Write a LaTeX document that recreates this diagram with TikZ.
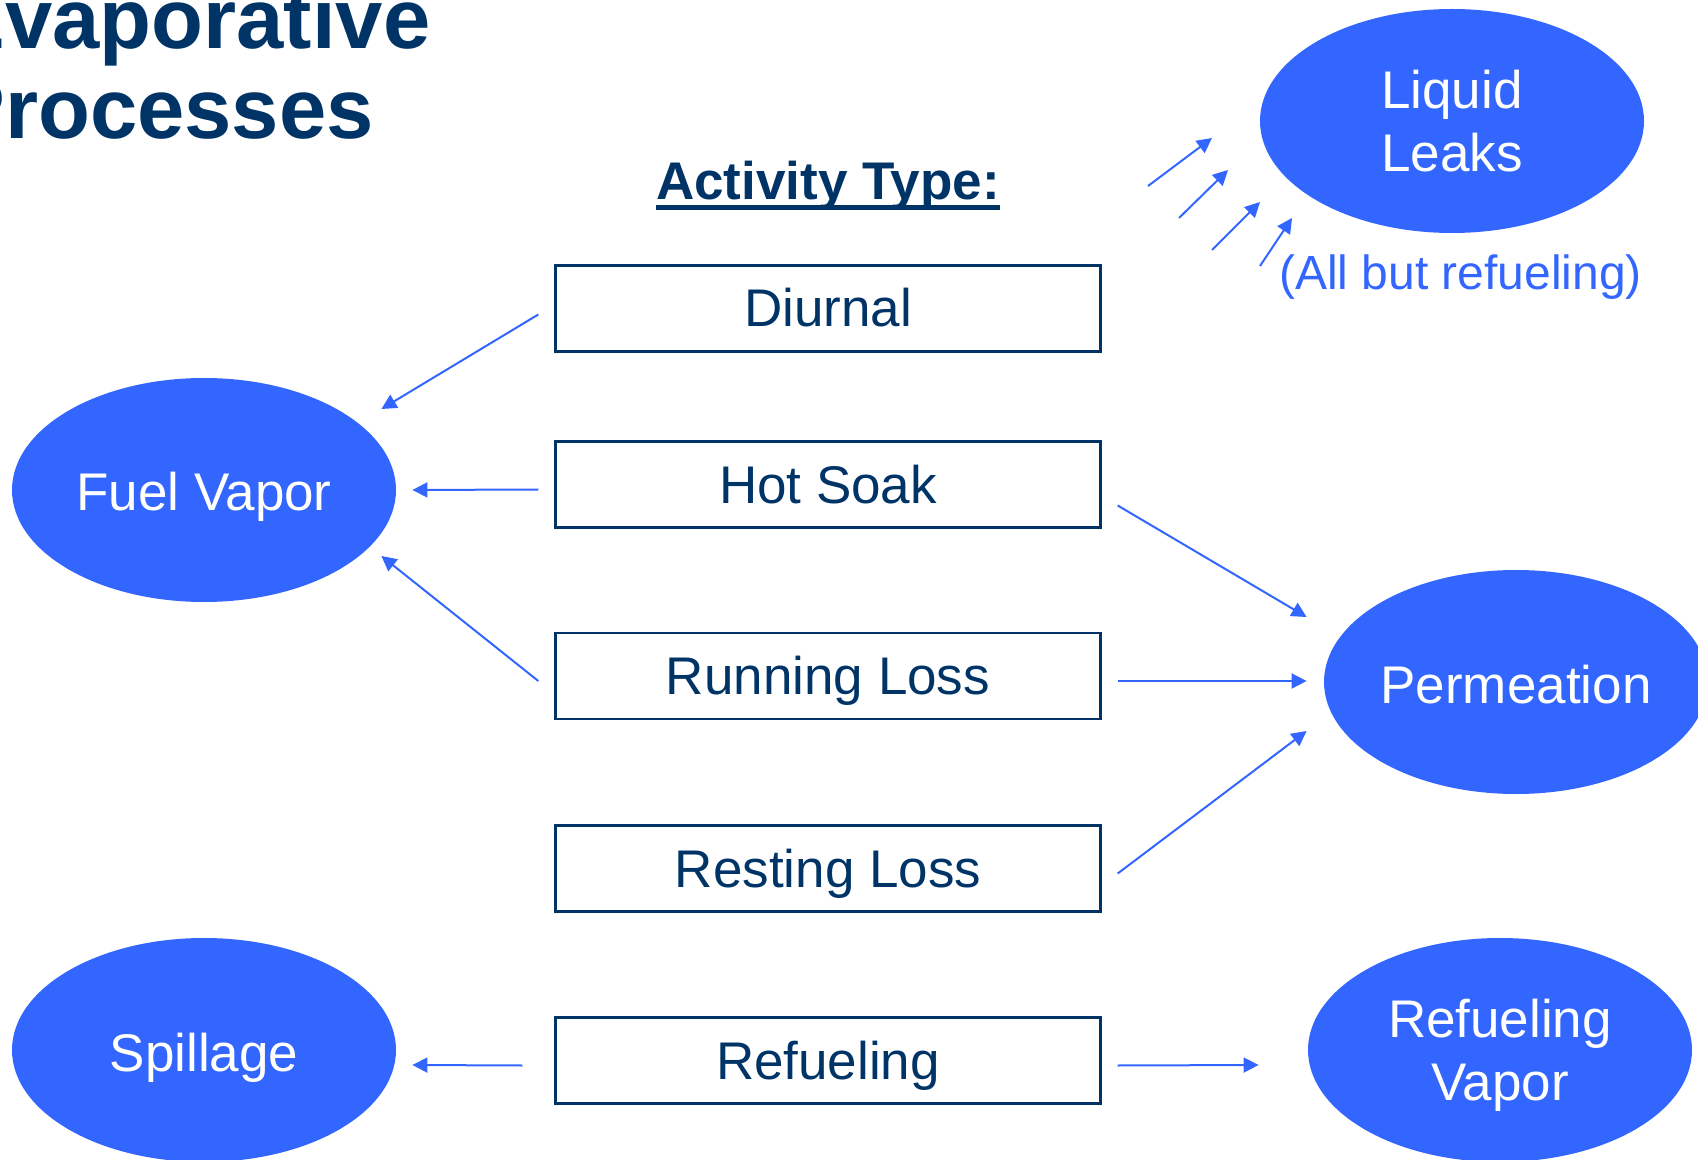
\documentclass[tikz,border=0pt]{standalone}
\usepackage{fontspec}
\setmainfont{Liberation Sans}
\usetikzlibrary{shapes.geometric,arrows.meta,calc}
\definecolor{navy}{HTML}{003366}
\definecolor{vivid}{HTML}{3366FF}
\begin{document}
\begin{tikzpicture}[x=0.5pt,y=-0.5pt,
  proc/.style={ellipse,fill=vivid,text=white,minimum width=192pt,minimum height=112pt,inner sep=0pt,align=center,font=\fontsize{26.5}{31.5}\selectfont},
  procline/.style={proc,text height=21pt,text depth=0pt},
  act/.style={draw=navy,line width=1.2pt,text=navy,minimum width=272.5pt,minimum height=43pt,inner sep=0pt,text height=18.5pt,text depth=0pt,font=\fontsize{26.5}{31.5}\selectfont},
  flow/.style={vivid,line width=1pt,-{Triangle[length=7.5pt,width=7.5pt]}},
  ttl/.style={anchor=base west,inner sep=0pt,text=navy,font=\fontsize{42.5}{45}\selectfont\bfseries}]
\useasboundingbox (0,0) rectangle (1698,1160);
\node[ttl] (T1) at (-52,49) {Evaporative};
\node[ttl] (T2) at (-52,139) {Processes};
\node[anchor=base,inner sep=0pt,text=navy,font=\fontsize{26.5}{31.5}\selectfont\bfseries] (Hd) at (828,200) {Activity Type:};
\draw[navy,line width=2.5pt] ($(Hd.base west)+(0,8)$) -- ($(Hd.base east)+(0,8)$);
\node[act] (D) at (828,308.5) {Diurnal};
\node[act] (HS) at (828,484.5) {Hot Soak};
\node[act] (RL) at (828,676) {Running Loss};
\node[act] (RS) at (828,868.5) {Resting Loss};
\node[act] (RF) at (828,1060.5) {Refueling};
\node[proc] (LL) at (1452,121) {Liquid\\Leaks};
\node[procline] (FV) at (204,490) {Fuel Vapor};
\node[procline] (PM) at (1516,682) {Permeation};
\node[procline] (SP) at (204,1050) {Spillage};
\node[proc,text depth=0pt] (RV) at (1500,1050) {Refueling\\Vapor};
\node[anchor=base,inner sep=0pt,text=vivid,font=\fontsize{24}{28}\selectfont] (AB) at (1460.5,290) {(All but refueling)};
\draw[flow] ($(D.west)+(-16,6)$) -- ($(FV.east)+(-15,-81)$);
\draw[flow] ($(HS.west)+(-16,5)$) -- ($(FV.east)+(16,0)$);
\draw[flow] ($(RL.west)+(-16,5)$) -- ($(FV.east)+(-15,66)$);
\draw[flow] ($(HS.east)+(16,21)$) -- ($(PM.west)+(-17,-65)$);
\draw[flow] ($(RL.east)+(16,5)$) -- ($(PM.west)+(-17,-1)$);
\draw[flow] ($(RS.east)+(16,5)$) -- ($(PM.west)+(-17,49)$);
\draw[flow] ($(RF.west)+(-32,5)$) -- ($(SP.east)+(16,15)$);
\draw[flow] ($(RF.east)+(16,5)$) -- ($(RV.west)+(-49,15)$);
\coordinate (L1a) at (1148,186);
\coordinate (L1b) at (1212,138);
\coordinate (L2a) at (1179,218);
\coordinate (L2b) at (1228,170);
\coordinate (L3a) at (1212,250);
\coordinate (L3b) at (1260,202);
\coordinate (L4a) at (1260,266);
\coordinate (L4b) at (1292,218);
\draw[flow] (L1a) -- (L1b);
\draw[flow] (L2a) -- (L2b);
\draw[flow] (L3a) -- (L3b);
\draw[flow] (L4a) -- (L4b);
\end{tikzpicture}
\end{document}
